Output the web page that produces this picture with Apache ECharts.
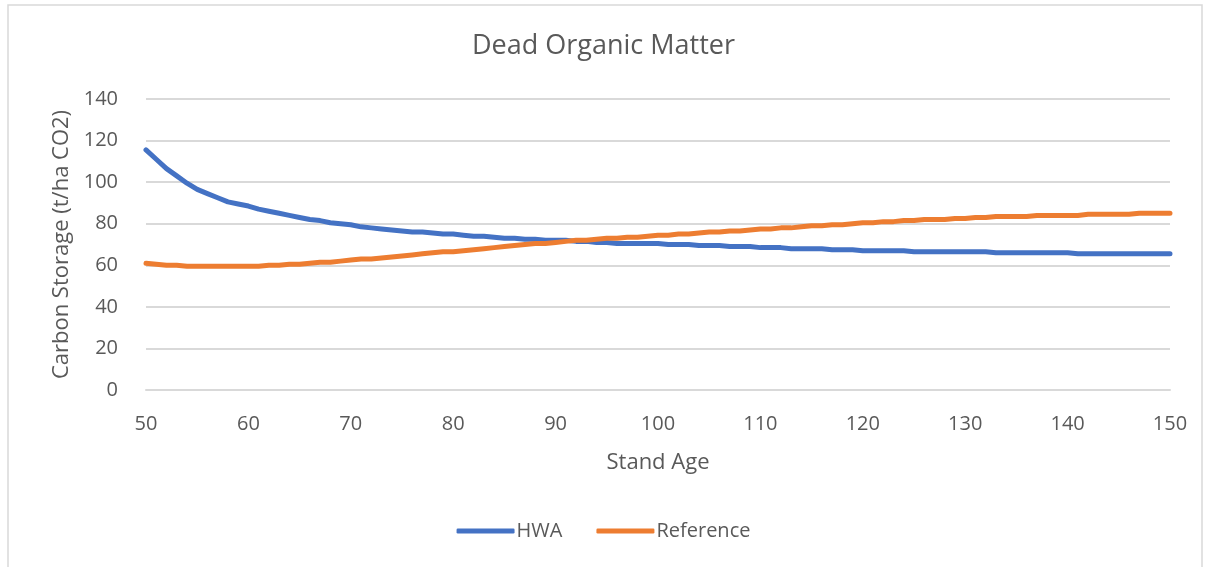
<!DOCTYPE html>
<html>
<head>
<meta charset="utf-8">
<script src="https://cdn.jsdelivr.net/npm/echarts@6/dist/echarts.min.js"></script>
<style>
  html, body { margin: 0; padding: 0; background: #fff; }
  #chart { width: 1207px; height: 567px; }
</style>
</head>
<body>
<div id="chart"></div>
<script>
// stand ages 50..150, one point per year
const ages = []
for (let a = 50; a <= 150; a++) ages.push(a)

// HWA series (t/ha CO2)
const hwaValues = [
  115.5, 111, 106.5, 103, 99.5, 96.5, 94.5, 92.5, 90.5, 89.5,
  88.5, 87, 86, 85, 84, 83, 82, 81.5, 80.5, 80,
  79.5, 78.5, 78, 77.5, 77, 76.5, 76, 76, 75.5, 75,
  75, 74.5, 74, 74, 73.5, 73, 73, 72.5, 72.5, 72,
  72, 72, 71.5, 71.5, 71, 71, 70.5, 70.5, 70.5, 70.5,
  70.5, 70, 70, 70, 69.5, 69.5, 69.5, 69, 69, 69,
  68.5, 68.5, 68.5, 68, 68, 68, 68, 67.5, 67.5, 67.5,
  67, 67, 67, 67, 67, 66.5, 66.5, 66.5, 66.5, 66.5,
  66.5, 66.5, 66.5, 66, 66, 66, 66, 66, 66, 66,
  66, 65.5, 65.5, 65.5, 65.5, 65.5, 65.5, 65.5, 65.5, 65.5,
  65.5
]

// Reference series (t/ha CO2)
const referenceValues = [
  61, 60.5, 60, 60, 59.5, 59.5, 59.5, 59.5, 59.5, 59.5,
  59.5, 59.5, 60, 60, 60.5, 60.5, 61, 61.5, 61.5, 62,
  62.5, 63, 63, 63.5, 64, 64.5, 65, 65.5, 66, 66.5,
  66.5, 67, 67.5, 68, 68.5, 69, 69.5, 70, 70.5, 70.5,
  71, 71.5, 72, 72, 72.5, 73, 73, 73.5, 73.5, 74,
  74.5, 74.5, 75, 75, 75.5, 76, 76, 76.5, 76.5, 77,
  77.5, 77.5, 78, 78, 78.5, 79, 79, 79.5, 79.5, 80,
  80.5, 80.5, 81, 81, 81.5, 81.5, 82, 82, 82, 82.5,
  82.5, 83, 83, 83.5, 83.5, 83.5, 83.5, 84, 84, 84,
  84, 84, 84.5, 84.5, 84.5, 84.5, 84.5, 85, 85, 85,
  85
]

const yTicks = [0, 20, 40, 60, 80, 100, 120, 140]

const font = '"Open Sans", "Liberation Sans", sans-serif'
const textGray = '#595959'

const chart = echarts.init(document.getElementById('chart'))

const option = {
  backgroundColor: '#fff',
  animation: false,
  title: {
    text: 'Dead Organic Matter',
    left: 'center',
    top: 28,
    textStyle: { color: textGray, fontSize: 27, fontWeight: 'normal', fontFamily: font }
  },
  graphic: [{
    type: 'rect',
    shape: { x: 8, y: 5, width: 1194, height: 620 },
    style: { fill: 'none', stroke: '#d9d9d9', lineWidth: 1.5 },
    silent: true
  }],
  legend: {
    bottom: 21,
    left: 'center',
    itemWidth: 58,
    itemHeight: 5,
    itemGap: 34,
    icon: 'roundRect',
    textStyle: { color: textGray, fontSize: 20, fontFamily: font, padding: [0, 0, 0, -3] },
    data: ['HWA', 'Reference']
  },
  grid: { left: 146, right: 37, top: 99, bottom: 177 },
  xAxis: {
    type: 'value',
    min: 50,
    max: 150,
    interval: 10,
    name: 'Stand Age',
    nameLocation: 'middle',
    nameGap: 62,
    nameTextStyle: { color: textGray, fontSize: 22, fontFamily: font },
    axisLine: { show: true, lineStyle: { color: '#d9d9d9', width: 2 } },
    axisTick: { show: false },
    splitLine: { show: false },
    axisLabel: { color: textGray, fontSize: 20, fontFamily: font, margin: 24 }
  },
  yAxis: {
    type: 'value',
    min: yTicks[0],
    max: yTicks[yTicks.length - 1],
    interval: 20,
    name: 'Carbon Storage (t/ha CO2)',
    nameLocation: 'middle',
    nameGap: 73,
    nameTextStyle: { color: textGray, fontSize: 22, fontFamily: font },
    axisLine: { show: false },
    axisTick: { show: false },
    axisLabel: { color: textGray, fontSize: 20, fontFamily: font, margin: 28 },
    splitLine: { show: true, lineStyle: { color: '#d9d9d9', width: 2 } }
  },
  series: [
    {
      name: 'HWA',
      type: 'line',
      showSymbol: false,
      color: '#4472C4',
      lineStyle: { width: 5, cap: 'round', join: 'round' },
      data: ages.map((a, i) => [a, hwaValues[i]])
    },
    {
      name: 'Reference',
      type: 'line',
      showSymbol: false,
      color: '#ED7D31',
      lineStyle: { width: 5, cap: 'round', join: 'round' },
      data: ages.map((a, i) => [a, referenceValues[i]])
    }
  ]
}

chart.setOption(option)
</script>
</body>
</html>
